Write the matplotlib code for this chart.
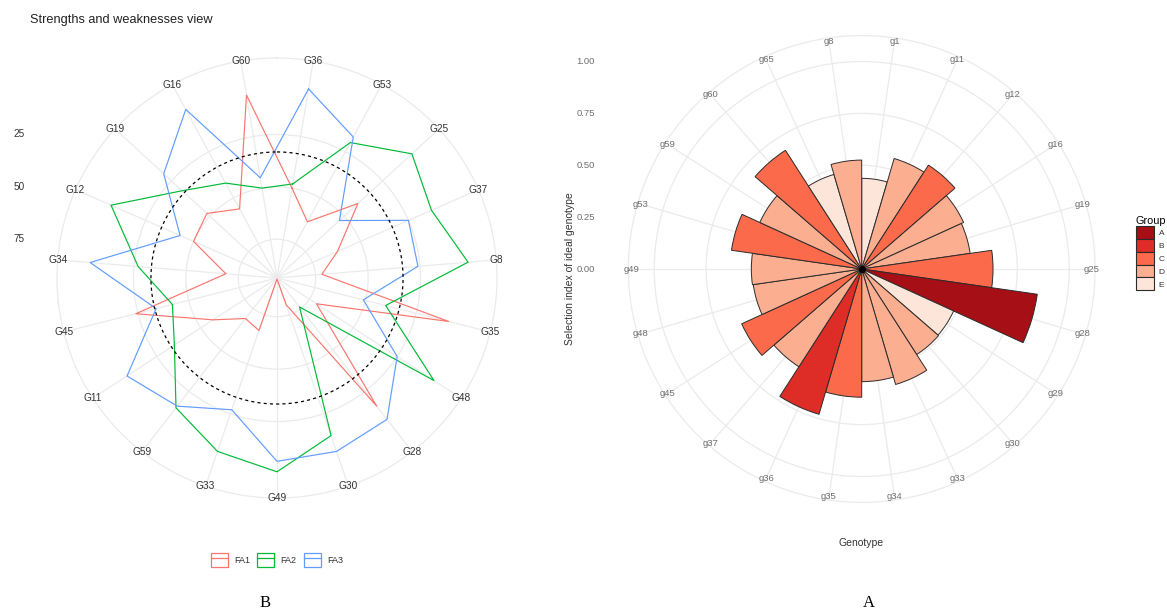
import numpy as np
import matplotlib
matplotlib.use("Agg")
import matplotlib.pyplot as plt
from matplotlib.patches import Patch
from matplotlib.lines import Line2D
from matplotlib.legend_handler import HandlerTuple

# ---------------- data: left radar (contribution of factors, %) ----------------
radar_genotypes = ["G36", "G53", "G25", "G37", "G8", "G35", "G48", "G28", "G30", "G49",
                   "G33", "G59", "G11", "G45", "G34", "G12", "G19", "G16", "G60"]
fa1 = [50, 63, 41, 62, 72, 9, 71, 16, 80, 93, 67, 69, 57, 24, 69, 50, 48, 56, 5]
fa2 = [48, 20, 6, 13, 2, 40, 4, 76, 14, 1, 6, 15, 35, 42, 27, 7, 32, 42, 50]
fa3 = [2, 17, 53, 25, 26, 51, 25, 8, 6, 6, 27, 16, 8, 34, 4, 43, 20, 2, 45]
radar_series = ["FA1", "FA2", "FA3"]
radar_colors = ["#F8766D", "#00BA38", "#619CFF"]
radar_ticks = [25, 50, 75]
equal_contribution = 100 / 3

# ---------------- data: right circular bar chart ----------------
bar_genotypes = ["g1", "g11", "g12", "g16", "g19", "g25", "g28", "g29", "g30", "g33", "g34",
                 "g35", "g36", "g37", "g45", "g48", "g49", "g53", "g59", "g60", "g65", "g8"]
selection_index = [0.437, 0.555, 0.595, 0.540, 0.528, 0.633, 0.855, 0.487, 0.490, 0.580, 0.543,
                   0.618, 0.730, 0.560, 0.636, 0.528, 0.532, 0.634, 0.540, 0.680, 0.475, 0.525]
bar_groups = ["E", "D", "C", "D", "D", "C", "A", "E", "D", "D", "D",
              "C", "B", "D", "C", "D", "D", "C", "D", "C", "E", "D"]
group_names = ["A", "B", "C", "D", "E"]
group_colors = ["#A50F15", "#DE2D26", "#FB6A4A", "#FCAE91", "#FEE5D9"]
bar_ticks = [0.0, 0.25, 0.5, 0.75, 1.0]
bar_ticklabels = ["0.00", "0.25", "0.50", "0.75", "1.00"]

# ---------------- figure ----------------
W, H = 1167, 613
fig = plt.figure(figsize=(W / 100, H / 100), dpi=100)
plt.rcParams["font.family"] = ["Liberation Sans", "DejaVu Sans"]
GRID = "#EBEBEB"


def polar_axes(cx, cy, R):
    return fig.add_axes([(cx - R) / W, (H - cy - R) / H, 2 * R / W, 2 * R / H], projection="polar")


def fig_y(ax, r):
    pt = ax.transData.transform((0, r))
    return fig.transFigure.inverted().transform(pt)[1]


# ======== left radar ========
ax1 = polar_axes(277, 278, 220)
ax1.set_theta_zero_location("N")
ax1.set_theta_direction(-1)
r_center, r_outer = 93.5, -11.5
ax1.set_rlim(r_center, r_outer)
n1 = len(radar_genotypes)
theta1 = (np.arange(n1) + 0.5) * 2 * np.pi / n1
ax1.set_xticks(theta1)
ax1.set_xticklabels([])
ax1.set_yticks(radar_ticks)
ax1.set_yticklabels([])
ax1.grid(True, color=GRID, lw=0.9)
ax1.spines["polar"].set_color(GRID)
ax1.spines["polar"].set_linewidth(0.9)

for vals, col in zip([fa1, fa2, fa3], radar_colors):
    th = np.append(theta1, theta1[0])
    v = np.append(vals, vals[0])
    ax1.plot(th, v, color=col, lw=0.85, zorder=3)

circ = np.linspace(0, 2 * np.pi, 400)
ax1.plot(circ, np.full_like(circ, equal_contribution), color="black", lw=0.9,
         linestyle=(0, (2.5, 2.5)), zorder=4)

for t, name in zip(theta1, radar_genotypes):
    ax1.text(t, r_outer, name, ha="center", va="center", fontsize=7.3, color="#333333",
             clip_on=False)

for v in radar_ticks:
    fig.text(24.5 / W, fig_y(ax1, v), str(v), ha="right", va="center", fontsize=7.2,
             color="#333333")

fig.text(30 / W, 1 - 19.5 / H, "Strengths and weaknesses view", ha="left", va="center",
         fontsize=9.2, color="#222222")

handles = [(Patch(facecolor="none", edgecolor=c, lw=0.9), Line2D([], [], color=c, lw=0.9))
           for c in radar_colors]
fig.legend(handles, radar_series, loc="center", bbox_to_anchor=(277 / W, 1 - 560 / H),
           ncol=3, frameon=False, fontsize=6.5, handlelength=1.9, handleheight=1.9,
           handletextpad=0.7, columnspacing=0.8,
           handler_map={tuple: HandlerTuple(ndivide=1, pad=0)}, labelcolor="#333333")

# ======== right circular bar chart ========
ax2 = polar_axes(861.7, 269, 233.4)
ax2.set_theta_zero_location("N")
ax2.set_theta_direction(-1)
ax2.set_rlim(0, 1.125)
n2 = len(bar_genotypes)
step = 2 * np.pi / n2
theta2 = (np.arange(n2) + 0.5) * step
ax2.set_xticks(theta2)
ax2.set_xticklabels([])
ax2.set_yticks(bar_ticks[1:])
ax2.set_yticklabels([])
ax2.grid(True, color=GRID, lw=0.9)
ax2.set_axisbelow(True)
ax2.spines["polar"].set_color(GRID)
ax2.spines["polar"].set_linewidth(0.9)

cmap = dict(zip(group_names, group_colors))
ax2.bar(theta2, selection_index, width=step, bottom=0,
        color=[cmap[g] for g in bar_groups], edgecolor="#2b2b2b", linewidth=0.7, zorder=3)
ax2.plot([0], [0], marker="o", ms=4, color="black", zorder=4)

for t, name in zip(theta2, bar_genotypes):
    ax2.text(t, 1.11, name, ha="center", va="center", fontsize=6.8, color="#6e6e6e",
             clip_on=False)

for v, lab in zip(bar_ticks, bar_ticklabels):
    fig.text(595 / W, fig_y(ax2, v), lab, ha="right", va="center", fontsize=6.8,
             color="#6e6e6e")

fig.text(570 / W, 1 - 269 / H, "Selection index of ideal genotype", rotation=90,
         ha="center", va="center", fontsize=7.5, color="#333333")
fig.text(861 / W, 1 - 543 / H, "Genotype", ha="center", va="center", fontsize=7.5,
         color="#333333")

ghandles = [Patch(facecolor=c, edgecolor="#2b2b2b", lw=0.8) for c in group_colors]
fig.legend(ghandles, group_names, title="Group", loc="upper left",
           bbox_to_anchor=(1136 / W, 1 - 216 / H), frameon=False, fontsize=6,
           title_fontsize=7.8, handlelength=2.1, handleheight=2.0, labelspacing=0,
           handletextpad=0.6, borderaxespad=0, borderpad=0, alignment="left",
           labelcolor="#333333")

fig.text(265 / W, 1 - 603 / H, "B", family=["Liberation Serif", "DejaVu Serif"], fontsize=12,
         ha="center", va="center", color="black")
fig.text(869 / W, 1 - 603 / H, "A", family=["Liberation Serif", "DejaVu Serif"], fontsize=12,
         ha="center", va="center", color="black")

fig.savefig("out.png", dpi=100)
